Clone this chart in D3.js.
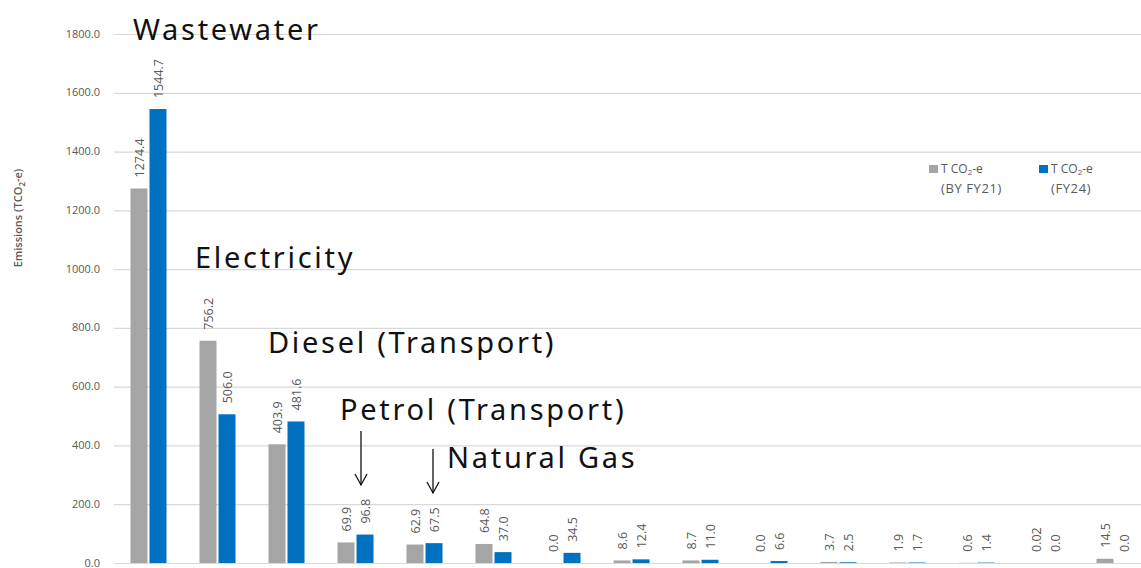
<!DOCTYPE html>
<html>
<head>
<meta charset="utf-8">
<script src="https://cdn.jsdelivr.net/npm/d3@7"></script>
<style>
body { margin: 0; background: #fff; }
text { font-family: "Open Sans", "Liberation Sans", sans-serif; }
.tick-label { font-size: 11px; fill: #595959; }
.legend-label { font-size: 12px; fill: #595959; }
.val { font-size: 12.5px; fill: #595959; }
.note { font-family: "Noto Sans", sans-serif; font-size: 29px; fill: #111; letter-spacing: 2.7px; }
</style>
</head>
<body>
<svg id="chart"></svg>
<script>
const categories = ['Wastewater','Electricity','Diesel (Transport)','Petrol (Transport)','Natural Gas','C6','C7','C8','C9','C10','C11','C12','C13','C14','C15'],
baseYear = [1274.4, 756.2, 403.9, 69.9, 62.9, 64.8, 0.0, 8.6, 8.7, 0.0, 3.7, 1.9, 0.6, 0.02, 14.5],
fy24 = [1544.7, 506.0, 481.6, 96.8, 67.5, 37.0, 34.5, 12.4, 11.0, 6.6, 2.5, 1.7, 1.4, 0.0, 0.0],
baseLabels = ['1274.4','756.2','403.9','69.9','62.9','64.8','0.0','8.6','8.7','0.0','3.7','1.9','0.6','0.02','14.5'],
fyLabels = ['1544.7','506.0','481.6','96.8','67.5','37.0','34.5','12.4','11.0','6.6','2.5','1.7','1.4','0.0','0.0'],
yTicks = [0, 200, 400, 600, 800, 1000, 1200, 1400, 1600, 1800],
colors = ['#A5A5A5', '#0070C0'],
width = 1141,
height = 568;

const svg = d3.select('#chart')
  .attr('width', width)
  .attr('height', height);

const x = d3.scaleBand()
  .domain(categories)
  .range([114, 1149]);

const y = d3.scaleLinear()
  .domain([0, 1800])
  .range([563, 34]);

// gridlines
svg.append('g')
  .selectAll('line')
  .data(yTicks)
  .enter().append('line')
  .attr('x1', 114)
  .attr('x2', width)
  .attr('y1', (d) => y(d) + 0.5)
  .attr('y2', (d) => y(d) + 0.5)
  .attr('stroke', '#d9d9d9')
  .attr('stroke-width', 1.2);

svg.append('g')
  .selectAll('text')
  .data(yTicks)
  .enter().append('text')
  .attr('class', 'tick-label')
  .attr('x', 100)
  .attr('y', (d) => y(d) + 3.5)
  .attr('text-anchor', 'end')
  .text((d) => d.toFixed(1));

svg.append('text')
  .attr('transform', 'translate(22,218) rotate(-90)')
  .attr('text-anchor', 'middle')
  .style('font-size', '11px')
  .style('font-weight', '600')
  .style('fill', '#595959')
  .html('Emissions (TCO<tspan font-size="8" dy="3">2</tspan><tspan dy="-3">-e)</tspan>');

const barW = 17, gap = 2;
const series = [
  {vals: baseYear, labels: baseLabels, off: -barW - gap / 2, color: colors[0]},
  {vals: fy24, labels: fyLabels, off: gap / 2, color: colors[1]}
];

series.forEach((s) => {
  svg.append('g')
    .selectAll('rect')
    .data(categories)
    .enter().append('rect')
    .attr('x', (d) => x(d) + x.bandwidth() / 2 + s.off)
    .attr('width', barW)
    .attr('y', (d, i) => y(s.vals[i]))
    .attr('height', (d, i) => y(0) - y(s.vals[i]))
    .attr('fill', s.color);

  svg.append('g')
    .selectAll('text')
    .data(categories)
    .enter().append('text')
    .attr('class', 'val')
    .attr('transform', (d, i) => `translate(${x(d) + x.bandwidth() / 2 + s.off + barW / 2 + 4.5},${y(s.vals[i]) - 11}) rotate(-90)`)
    .attr('text-anchor', 'start')
    .text((d, i) => s.labels[i]);
});

// legend
const legend = [
  {x: 929, color: colors[0], sub: '(BY FY21)'},
  {x: 1039, color: colors[1], sub: '(FY24)'}
];
legend.forEach((l) => {
  svg.append('rect')
    .attr('x', l.x).attr('y', 165)
    .attr('width', 9).attr('height', 8)
    .attr('fill', l.color);
  svg.append('text')
    .attr('class', 'legend-label')
    .attr('x', l.x + 12).attr('y', 173)
    .html('T CO<tspan font-size="8" dy="2">2</tspan><tspan dy="-2">-e</tspan>');
  svg.append('text')
    .attr('class', 'legend-label')
    .attr('x', l.x + 12).attr('y', 193)
    .style('font-size', '13px')
    .style('letter-spacing', '0.6px')
    .text(l.sub);
});

// annotations
const notes = [
  {name: 'Wastewater', x: 133, y: 40},
  {name: 'Electricity', x: 195, y: 268},
  {name: 'Diesel (Transport)', x: 268, y: 353},
  {name: 'Petrol (Transport)', x: 340, y: 420},
  {name: 'Natural Gas', x: 447, y: 468}
];
svg.append('g')
  .selectAll('text')
  .data(notes)
  .enter().append('text')
  .attr('class', 'note')
  .attr('x', (d) => d.x)
  .attr('y', (d) => d.y)
  .text((d) => d.name);

const arrows = [
  {x: 361, y1: 431, y2: 485},
  {x: 433, y1: 449, y2: 493}
];
arrows.forEach((a) => {
  const g = svg.append('g').attr('stroke', '#111').attr('stroke-width', 1.3).attr('fill', 'none');
  g.append('line').attr('x1', a.x).attr('x2', a.x).attr('y1', a.y1).attr('y2', a.y2);
  g.append('path').attr('d', `M${a.x - 6},${a.y2 - 11}L${a.x},${a.y2}L${a.x + 6},${a.y2 - 11}`);
});
</script>
</body>
</html>
